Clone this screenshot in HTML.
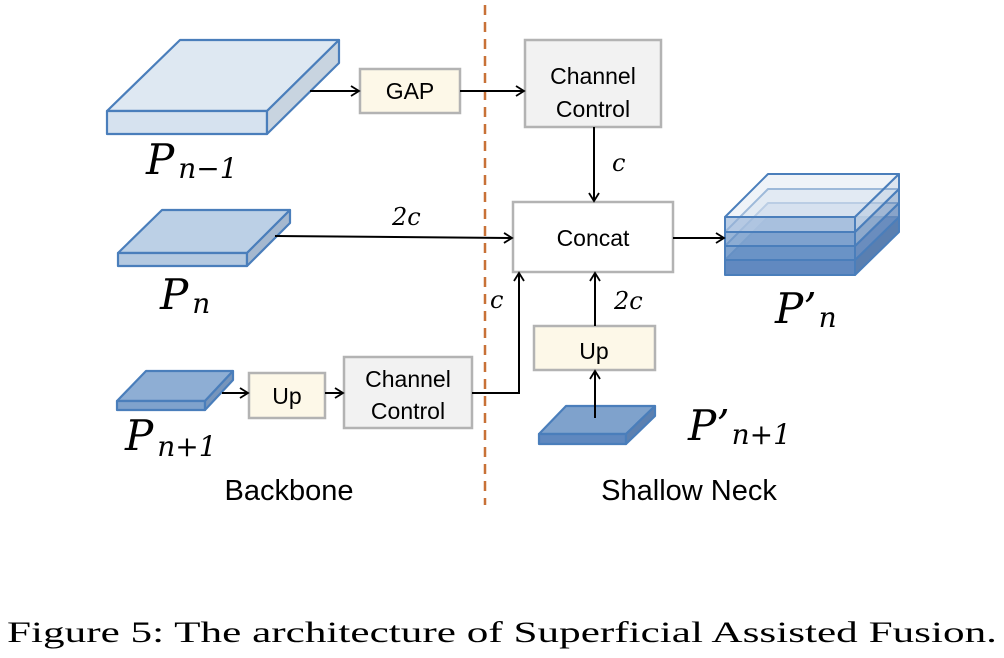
<!DOCTYPE html>
<html><head><meta charset="utf-8"><style>
html,body{margin:0;padding:0;background:#fff}
svg{display:block}
.s{font-family:"Liberation Sans","DejaVu Sans",sans-serif}
.m{font-family:"DejaVu Serif","Liberation Serif",serif;font-style:italic}
</style></head><body>
<svg width="1004" height="658" viewBox="0 0 1004 658" xmlns="http://www.w3.org/2000/svg">
<defs><marker id="a" markerWidth="12" markerHeight="12" refX="10" refY="6" orient="auto" markerUnits="userSpaceOnUse"><polyline points="2,1 10,6 2,11" fill="none" stroke="#000" stroke-width="1.8"/></marker></defs>
<line x1="485" y1="5" x2="485" y2="505" stroke="#c87137" stroke-width="2.5" stroke-dasharray="10,7"/>
<g stroke="#4a7ebb" stroke-width="2.2" stroke-linejoin="round">
<polygon points="107,111 180,40 339,40 267,111" fill="#dee8f2"/>
<rect x="107" y="111" width="160" height="23" fill="#d6e2ef"/>
<polygon points="267,111 339,40 339,63 267,134" fill="#c8d4e0"/>
<polygon points="118,253 162,210 290,210 247,253" fill="#bcd0e6"/>
<rect x="118" y="253" width="129" height="13" fill="#b4c9e0"/>
<polygon points="247,253 290,210 290,223 247,266" fill="#a5b8cf"/>
<polygon points="117,401 146,371 233,371 205,401" fill="#8eaed4"/>
<rect x="117" y="401" width="88" height="9" fill="#7fa2cc"/>
<polygon points="205,401 233,371 233,380 205,410" fill="#7795bb"/>
<polygon points="539,434 566,406 655,406 626,434" fill="#7fa2cc"/>
<rect x="539" y="434" width="87" height="10" fill="#5f88bf"/>
<polygon points="626,434 655,406 655,416 626,444" fill="#5c80b0"/>
<g stroke-width="2">
<polygon points="725,260 768,217 899,217 855,260" fill="#6a93c6"/>
<rect x="725" y="260" width="130" height="15" fill="#6189c0"/>
<polygon points="855,260 899,217 899,232 855,275" fill="#5a7fb0"/>
<polygon points="725,246 768,203 899,203 855,246" fill="#9db8da" fill-opacity="0.55"/>
<rect x="725" y="246" width="130" height="14" fill="#6a93c6" fill-opacity="0.85"/>
<polygon points="855,246 899,203 899,217 855,260" fill="#6a8cbc" fill-opacity="0.8"/>
<polygon points="725,232 768,189 899,189 855,232" fill="#c8d8ea" fill-opacity="0.5"/>
<rect x="725" y="232" width="130" height="14" fill="#7da1cd" fill-opacity="0.8"/>
<polygon points="855,232 899,189 899,203 855,246" fill="#90a9cb" fill-opacity="0.7"/>
<polygon points="725,217 768,174 899,174 855,217" fill="#e2eaf3" fill-opacity="0.55"/>
<rect x="725" y="217" width="130" height="15" fill="#a9c1de" fill-opacity="0.8"/>
<polygon points="855,217 899,174 899,189 855,232" fill="#c4d3e4" fill-opacity="0.6"/>
</g>
</g>
<g stroke="#b3b3b3" stroke-width="2.5">
<rect x="360" y="69" width="100" height="44" fill="#fdf8e8"/>
<rect x="525" y="40" width="136" height="87" fill="#f2f2f2"/>
<rect x="513" y="202" width="160" height="70" fill="#fff"/>
<rect x="534" y="326" width="121" height="44" fill="#fdf8e8"/>
<rect x="249" y="373" width="76" height="45" fill="#fdf8e8"/>
<rect x="344" y="357" width="128" height="71" fill="#f2f2f2"/>
</g>
<g class="s" font-size="23" fill="#000" text-anchor="middle">
<text x="410" y="99">GAP</text>
<text x="593" y="84">Channel</text>
<text x="593" y="117">Control</text>
<text x="593" y="246">Concat</text>
<text x="594" y="359">Up</text>
<text x="287" y="404">Up</text>
<text x="408" y="387">Channel</text>
<text x="408" y="419">Control</text>
<text x="289" y="500" font-size="29">Backbone</text>
<text x="689" y="500" font-size="29">Shallow Neck</text>
</g>
<g stroke="#000" stroke-width="2" fill="none">
<line x1="310" y1="91" x2="359" y2="91" marker-end="url(#a)"/>
<line x1="460" y1="91" x2="524" y2="91" marker-end="url(#a)"/>
<line x1="594" y1="127" x2="594" y2="201" marker-end="url(#a)"/>
<line x1="275" y1="236" x2="512" y2="238" marker-end="url(#a)"/>
<line x1="673" y1="238" x2="724" y2="238" marker-end="url(#a)"/>
<line x1="222" y1="393" x2="248" y2="393" marker-end="url(#a)"/>
<line x1="325" y1="393" x2="343" y2="393" marker-end="url(#a)"/>
<polyline points="472,393 519,393 519,273" marker-end="url(#a)"/>
<line x1="595" y1="418" x2="595" y2="371" marker-end="url(#a)"/>
<line x1="595" y1="326" x2="595" y2="273" marker-end="url(#a)"/>
</g>
<g class="m" fill="#000">
<text x="612" y="171" font-size="24">c</text>
<text x="392" y="225" font-size="24">2c</text>
<text x="490" y="308" font-size="24">c</text>
<text x="614" y="309" font-size="24">2c</text>
<text x="146" y="174" font-size="42">P<tspan font-size="28" dx="4" dy="4">n−1</tspan></text>
<text x="160" y="309" font-size="42">P<tspan font-size="28" dx="4" dy="4">n</tspan></text>
<text x="125" y="450" font-size="42">P<tspan font-size="28" dx="4" dy="6">n+1</tspan></text>
<text x="775" y="323" font-size="42">P’<tspan font-size="28" dx="2" dy="4">n</tspan></text>
<text x="688" y="440" font-size="42">P’<tspan font-size="28" dx="2" dy="4">n+1</tspan></text>
</g>
<text x="502" y="642" text-anchor="middle" font-family="'Liberation Serif','DejaVu Serif',serif" font-size="30" textLength="990" lengthAdjust="spacingAndGlyphs">Figure 5: The architecture of Superficial Assisted Fusion.</text>
</svg>
</body></html>
